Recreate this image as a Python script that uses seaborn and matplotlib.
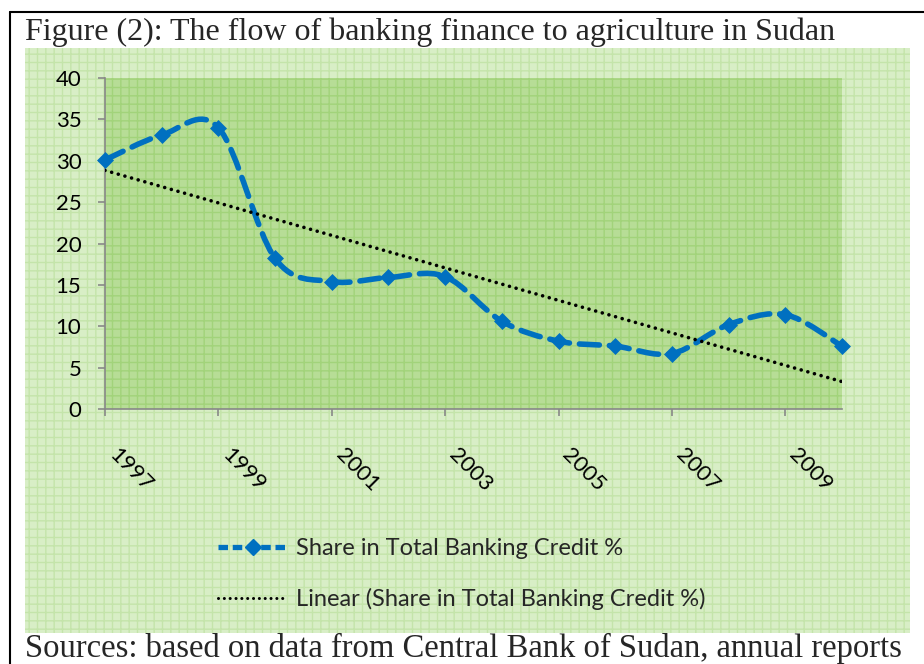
import numpy as np
import matplotlib
matplotlib.use('Agg')
import matplotlib.pyplot as plt
import seaborn as sns
from matplotlib.path import Path
from matplotlib.patches import PathPatch, Rectangle
from matplotlib.lines import Line2D

# Data
years = [1997, 1998, 1999, 2000, 2001, 2002, 2003, 2004, 2005, 2006, 2007, 2008, 2009, 2010]
share = [30.1, 33.1, 34.0, 18.2, 15.4, 15.9, 16.0, 10.6, 8.2, 7.6, 6.7, 10.2, 11.4, 7.6]
tick_years = [1997, 1999, 2001, 2003, 2005, 2007, 2009]
y_ticks = [0, 5, 10, 15, 20, 25, 30, 35, 40]

title_text = "Figure (2): The flow of banking finance to agriculture in Sudan"
source_text = "Sources: based on data from Central Bank of Sudan, annual reports"
series_label = "Share in Total Banking Credit %"
trend_label = "Linear (Share in Total Banking Credit %)"

blue = '#0070c0'

sns.set_style('ticks')
plt.rcParams['font.family'] = ['Lato', 'DejaVu Sans']
plt.rcParams['hatch.linewidth'] = 1.0

W, H = 924, 664
fig = plt.figure(figsize=(W / 100, H / 100), dpi=100)


def fx(px):
    return px / W


def fy(py):
    return 1 - py / H


# Chart area (light patterned green) and black frame
outer = Rectangle((fx(25), fy(633)), fx(910) - fx(25), fy(48) - fy(633),
                  transform=fig.transFigure, facecolor='#d8eec6', edgecolor='#c4e4aa',
                  hatch='++', linewidth=0, zorder=0)
fig.add_artist(outer)
fig.add_artist(Line2D([fx(10), fx(10)], [fy(12), 0], color='black', lw=1.5, transform=fig.transFigure))
fig.add_artist(Line2D([fx(10), 1], [fy(12), fy(12)], color='black', lw=1.5, transform=fig.transFigure))

# Plot area
ax = fig.add_axes([fx(105), fy(409), fx(842) - fx(105), fy(78) - fy(409)])
ax.set_facecolor('none')
ax.add_patch(Rectangle((0, 0), 1, 1, transform=ax.transAxes, facecolor='#b7dd96',
                       edgecolor='#a2d37a', hatch='++', linewidth=0, zorder=0))

# Smoothed series line (Excel style bezier through the points)
pts = np.column_stack([np.array(years, float), np.array(share, float)])
verts = [pts[0]]
codes = [Path.MOVETO]
n = len(pts)
for i in range(n - 1):
    p0 = pts[max(i - 1, 0)]
    p1 = pts[i]
    p2 = pts[i + 1]
    p3 = pts[min(i + 2, n - 1)]
    verts += [p1 + (p2 - p0) / 6, p2 - (p3 - p1) / 6, p2]
    codes += [Path.CURVE4] * 3
curve = PathPatch(Path(verts, codes), facecolor='none', edgecolor=blue, lw=4.0,
                  linestyle=(0, (3.6, 1.8)), capstyle='round', zorder=3, clip_on=False)
ax.add_patch(curve)

sns.scatterplot(x=years, y=share, marker='D', s=75, color=blue, edgecolor=blue,
                linewidth=0, ax=ax, zorder=4, legend=False, clip_on=False)

# Linear trend
slope, intercept = np.polyfit(years, share, 1)
trend = slope * np.array(years) + intercept
sns.lineplot(x=years, y=trend, ax=ax, color='black', lw=2.6,
             linestyle=(0, (0.01, 1.9)), dash_capstyle='round', zorder=3)

ax.set_xlim(1997, 2010)
ax.set_ylim(0, 40)
ax.set_xticks(tick_years)
ax.set_xticklabels([str(t) for t in tick_years], rotation=-45, ha='left', va='top')
ax.set_yticks(y_ticks)
ax.tick_params(axis='both', direction='out', length=5, width=1.2, color='#888888',
               labelsize=16, labelcolor='black')
ax.tick_params(axis='y', pad=12)
ax.tick_params(axis='x', pad=21)
for s in ['top', 'right']:
    ax.spines[s].set_visible(False)
for s in ['left', 'bottom']:
    ax.spines[s].set_color('#888888')
    ax.spines[s].set_linewidth(1.2)
ax.set_xlabel('')
ax.set_ylabel('')

handles = [Line2D([], [], color=blue, lw=3.8, linestyle=(0, (1.8, 0.9)), marker='D', markersize=8),
           Line2D([], [], color='black', lw=2.2, linestyle=(0, (0.01, 1.9)), dash_capstyle='round')]
fig.legend(handles, [series_label, trend_label], loc='upper left',
           bbox_to_anchor=(fx(218), fy(538)), frameon=False, fontsize=17,
           handlelength=2.95, handletextpad=0.34, labelspacing=1.23,
           borderpad=0, borderaxespad=0, numpoints=1)

fig.text(fx(25), fy(40), title_text, family='Liberation Serif', fontsize=23,
         ha='left', va='baseline')
fig.text(fx(25), fy(657), source_text, family='Liberation Serif', fontsize=23.5,
         ha='left', va='baseline')

plt.savefig('out.png', dpi=100)
